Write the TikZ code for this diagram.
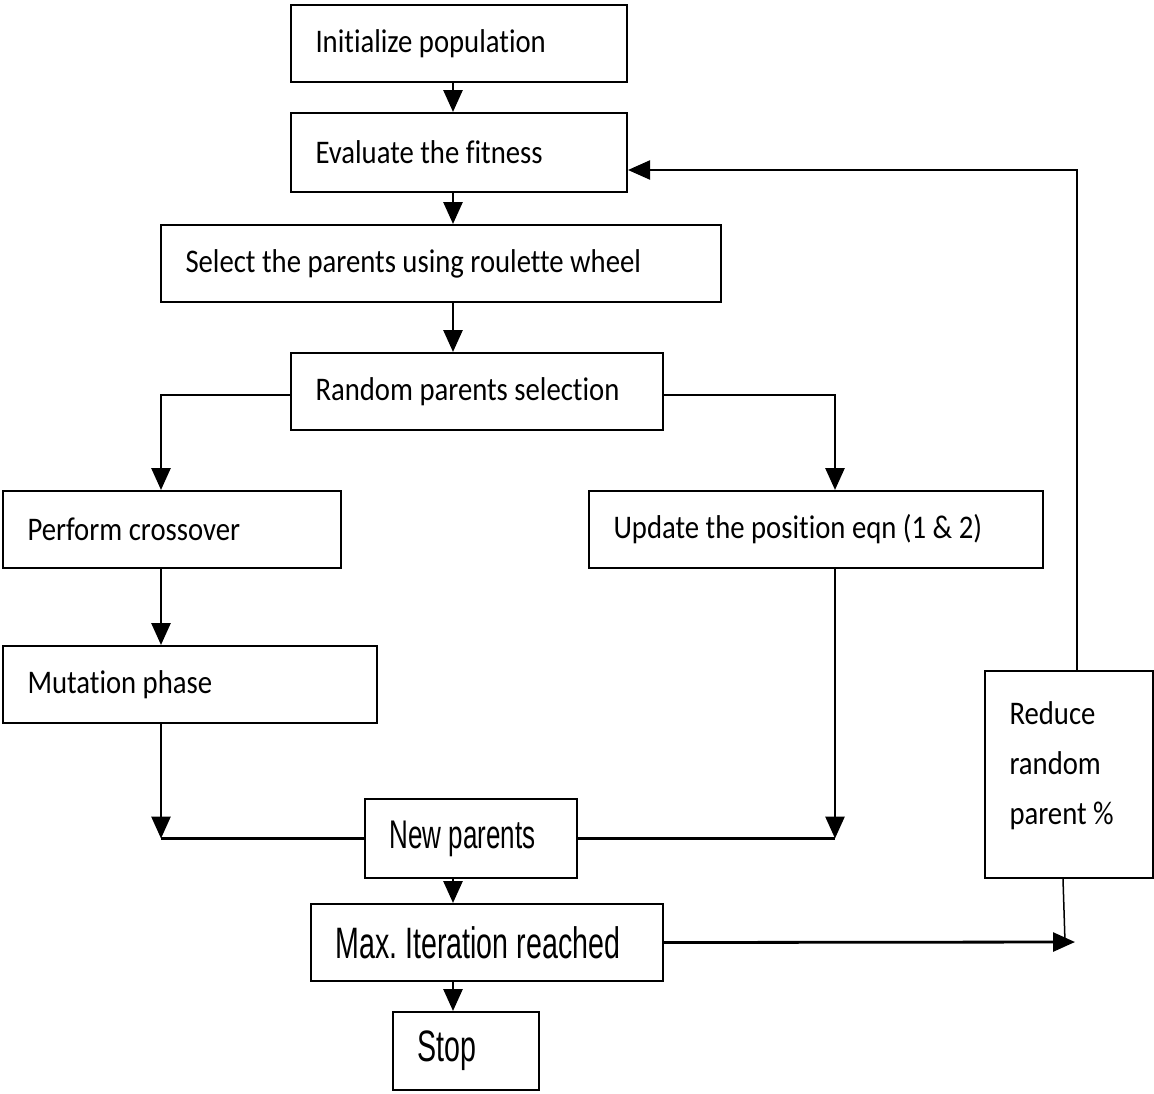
\documentclass[tikz,border=0pt]{standalone}
\usepackage{fontspec}
\setmainfont{Carlito}[FakeStretch=0.87, Ligatures=NoCommon]
\newfontfamily\narrowfont[FakeStretch=0.65]{Liberation Sans}
\usetikzlibrary{arrows.meta}
\frenchspacing
\begin{document}
\begin{tikzpicture}[x=1pt,y=-1pt,
  bx/.style={draw, line width=2pt, align=left, inner xsep=24.5pt, inner ysep=0pt,
    font=\fontsize{33}{38}\selectfont,
    execute at begin node={\spaceskip=0pt\xspaceskip=0pt\relax}},
  nb/.style={font=\narrowfont\fontsize{44}{48}\selectfont},
  arr/.style={line width=2.8pt, -{Triangle[length=22pt,width=19pt]}},
  ln/.style={line width=2.2pt}]
\useasboundingbox (0,0) rectangle (1154,1093);
% boxes
\node[bx, text width=287pt, minimum height=77pt] (init) at (459,43.5) {Initialize population};
\node[bx, text width=287pt, minimum height=79pt] (eval) at (459,152.5) {Evaluate the fitness};
\node[bx, text width=511pt, minimum height=77pt] (select) at (441,263.5) {Select the parents using roulette wheel};
\node[bx, text width=323pt, minimum height=77pt] (random) at (477,391.5) {Random parents selection};
\node[bx, text width=289pt, minimum height=77pt] (cross) at (172,529.5) {Perform crossover};
\node[bx, text width=405pt, minimum height=77pt] (update) at (816,529.5) {Update the position eqn (1 \& 2)};
\node[bx, text width=325pt, minimum height=77pt] (mut) at (190,684.5) {Mutation phase};
\node[bx, text width=163pt, minimum height=79pt, font=\narrowfont\fontsize{40}{45}\selectfont] (newp) at (471,838.5) {New parents};
\node[bx, nb, text width=303pt, minimum height=77pt] (maxit) at (487,942.5) {Max. Iteration reached};
\node[bx, nb, text width=97pt, minimum height=78pt] (stop) at (466,1051) {Stop};
\node[bx, text width=119pt, minimum height=207pt, font=\fontsize{33}{50}\selectfont] (reduce) at (1069,774.5)
  {Reduce\\random\\parent \%\rule[-22pt]{0pt}{22pt}};
% helper coordinates
\coordinate (sp) at (453,0);
\coordinate (lx) at (161,0);
\coordinate (rx) at (835,0);
\coordinate (hy) at (0,395);
\coordinate (fb) at (1077,170);
\coordinate (tipx) at (1075,942);
\coordinate (mj) at (1065,942);
\coordinate (rb) at (1063,0);
% connectors
\draw[arr] (init.south -| sp) -- (eval.north -| sp);
\draw[arr] (eval.south -| sp) -- (select.north -| sp);
\draw[arr] (select.south -| sp) -- (random.north -| sp);
\draw[arr] (random.west |- hy) -| (cross.north -| lx);
\draw[arr] (random.east |- hy) -| (update.north -| rx);
\draw[arr] (cross.south -| lx) -- (mut.north -| lx);
\draw[arr] (mut.south -| lx) -- (newp.west -| lx);
\draw[ln] (newp.west) -- (newp.west -| lx);
\draw[arr] (update.south -| rx) -- (newp.east -| rx);
\draw[ln] (newp.east) -- (newp.east -| rx);
\draw[arr] (newp.south -| sp) -- (maxit.north -| sp);
\draw[arr] (maxit.south -| sp) -- (stop.north -| sp);
\draw[arr] (maxit.east) -- (tipx);
\draw[line width=1.5pt] (reduce.south -| rb) -- (mj);
\draw[arr, line width=2.2pt] (reduce.north -| fb) -- (fb) -- (eval.east |- fb);
\end{tikzpicture}
\end{document}
